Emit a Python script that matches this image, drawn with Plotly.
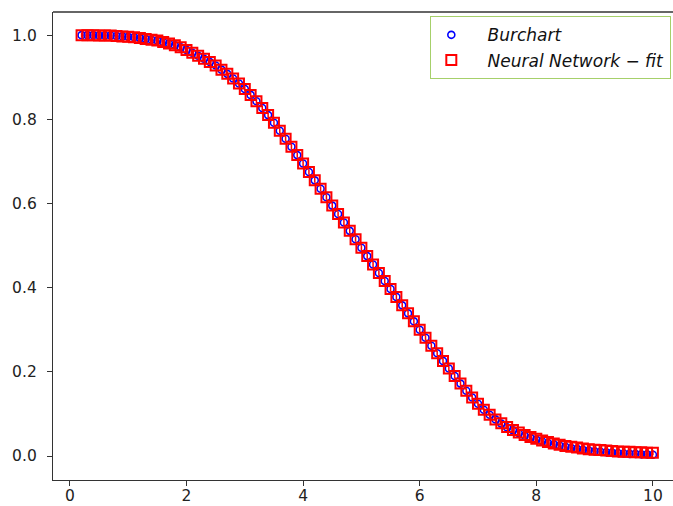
import plotly.graph_objects as go

# x positions of the samples
x_vals = [0.2, 0.3, 0.4, 0.5, 0.6, 0.7, 0.8, 0.9, 1.0,
          1.1, 1.2, 1.3, 1.4, 1.5, 1.6, 1.7, 1.8, 1.9, 2.0,
          2.1, 2.2, 2.3, 2.4, 2.5, 2.6, 2.7, 2.8, 2.9, 3.0,
          3.1, 3.2, 3.3, 3.4, 3.5, 3.6, 3.7, 3.8, 3.9, 4.0,
          4.1, 4.2, 4.3, 4.4, 4.5, 4.6, 4.7, 4.8, 4.9, 5.0,
          5.1, 5.2, 5.3, 5.4, 5.5, 5.6, 5.7, 5.8, 5.9, 6.0,
          6.1, 6.2, 6.3, 6.4, 6.5, 6.6, 6.7, 6.8, 6.9, 7.0,
          7.1, 7.2, 7.3, 7.4, 7.5, 7.6, 7.7, 7.8, 7.9, 8.0,
          8.1, 8.2, 8.3, 8.4, 8.5, 8.6, 8.7, 8.8, 8.9, 9.0,
          9.1, 9.2, 9.3, 9.4, 9.5, 9.6, 9.7, 9.8, 9.9, 10.0]

# Burchart values
burchart = [1.000, 1.000, 1.000, 0.999, 0.999, 0.999, 0.998, 0.997, 0.996,
            0.995, 0.993, 0.991, 0.989, 0.987, 0.984, 0.980, 0.976, 0.971, 0.965,
            0.958, 0.951, 0.944, 0.936, 0.928, 0.918, 0.908, 0.897, 0.885, 0.872,
            0.858, 0.843, 0.827, 0.810, 0.792, 0.773, 0.754, 0.735, 0.715, 0.695,
            0.675, 0.655, 0.635, 0.615, 0.595, 0.575, 0.555, 0.535, 0.515, 0.495,
            0.475, 0.455, 0.435, 0.416, 0.397, 0.378, 0.358, 0.339, 0.320, 0.300,
            0.281, 0.262, 0.244, 0.226, 0.208, 0.190, 0.172, 0.155, 0.139, 0.124,
            0.110, 0.098, 0.087, 0.077, 0.068, 0.061, 0.054, 0.048, 0.043, 0.039,
            0.035, 0.031, 0.028, 0.025, 0.022, 0.019, 0.017, 0.015, 0.013, 0.011,
            0.010, 0.009, 0.008, 0.007, 0.006, 0.005, 0.005, 0.004, 0.004, 0.003]

# Neural network fit values
nn_fit = [1.000, 1.000, 1.000, 0.999, 0.999, 0.999, 0.998, 0.997, 0.996,
          0.995, 0.993, 0.991, 0.989, 0.987, 0.984, 0.980, 0.976, 0.971, 0.965,
          0.958, 0.951, 0.944, 0.936, 0.928, 0.918, 0.908, 0.897, 0.885, 0.872,
          0.858, 0.843, 0.827, 0.810, 0.792, 0.773, 0.754, 0.735, 0.715, 0.695,
          0.675, 0.655, 0.635, 0.615, 0.595, 0.575, 0.555, 0.535, 0.515, 0.495,
          0.475, 0.455, 0.435, 0.416, 0.397, 0.378, 0.358, 0.339, 0.320, 0.300,
          0.281, 0.262, 0.244, 0.226, 0.208, 0.190, 0.172, 0.155, 0.139, 0.124,
          0.110, 0.098, 0.087, 0.078, 0.069, 0.062, 0.056, 0.050, 0.045, 0.041,
          0.037, 0.033, 0.030, 0.027, 0.024, 0.022, 0.020, 0.018, 0.016, 0.015,
          0.014, 0.013, 0.012, 0.011, 0.010, 0.010, 0.009, 0.009, 0.008, 0.008]

nn_err = 0.006

x_ticks = [0, 2, 4, 6, 8, 10]
y_ticks = [0.0, 0.2, 0.4, 0.6, 0.8, 1.0]

FONT = "DejaVu Sans"
SPINE = "#333333"
PAD = "\u00a0\u00a0\u00a0"

fig = go.Figure()
fig.add_trace(go.Scatter(
    x=x_vals, y=burchart, mode="markers", name=PAD + "Burchart",
    marker=dict(symbol="circle-open", size=7, color="#0000ff",
                line=dict(width=1.6, color="#0000ff")),
))
fig.add_trace(go.Scatter(
    x=x_vals, y=nn_fit, mode="markers", name=PAD + "Neural Network \u2212 fit",
    marker=dict(symbol="square-open", size=10, color="#ff0000",
                line=dict(width=2, color="#ff0000")),
    error_y=dict(type="constant", value=nn_err, color="#ff0000",
                 thickness=1.5, width=0),
))

axis_common = dict(
    showgrid=False, zeroline=False, showline=True, linecolor=SPINE,
    linewidth=1.3, ticks="outside", ticklen=5, tickwidth=1.3, automargin=False,
    tickcolor=SPINE, tickfont=dict(family=FONT, size=15.5, color="#222222"),
)

fig.update_xaxes(range=[-0.29, 10.345], tickvals=x_ticks,
                 ticktext=[str(t) for t in x_ticks], ticklabelstandoff=-4,
                 **axis_common)
fig.update_yaxes(range=[-0.057, 1.055], tickvals=y_ticks,
                 ticktext=["%.1f" % t for t in y_ticks], ticklabelstandoff=7,
                 **axis_common)

fig.add_shape(type="line", xref="paper", yref="paper", x0=0, x1=1, y0=1, y1=1,
              line=dict(color=SPINE, width=1.3))

fig.update_layout(
    width=673, height=506,
    margin=dict(l=53, r=0, t=12, b=26, pad=0, autoexpand=False),
    paper_bgcolor="white", plot_bgcolor="white",
    showlegend=True,
    legend=dict(
        x=0.9968, y=0.9915, xanchor="right", yanchor="top",
        bgcolor="rgba(255,255,255,0.9)", bordercolor="#a6d06a", borderwidth=1.3,
        font=dict(family=FONT, size=17, color="#111111", style="italic"),
        itemwidth=30, tracegroupgap=0,
    ),
)

fig.write_html(
    "out.html",
    config={"displayModeBar": False},
    post_script="document.body.style.margin='0';document.body.style.overflow='hidden';",
)
